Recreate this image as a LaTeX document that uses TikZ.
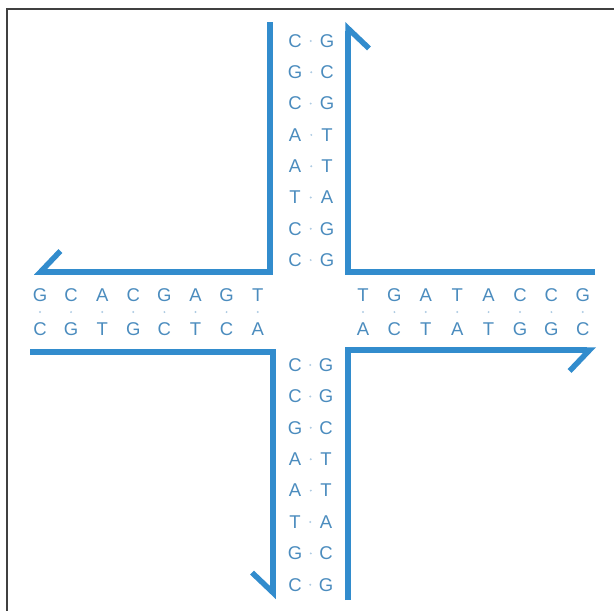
\documentclass[tikz,border=0pt]{standalone}
\usepackage{fontspec}
\setmainfont{Liberation Sans}
\usetikzlibrary{arrows.meta}
\definecolor{strandblue}{RGB}{50,140,205}
\definecolor{baseblue}{RGB}{75,140,190}
\tikzset{
  strand/.style={line width=5.5pt, draw=strandblue, line join=miter,
    -{Straight Barb[harpoon, swap, length=20pt, width=42pt]}},
  base/.style={font=\fontsize{18.5}{20}\selectfont, text=baseblue, inner sep=2pt},
  bond/.style={circle, fill=baseblue!45, inner sep=0pt, minimum size=2.2pt},
}
\begin{document}
\begin{tikzpicture}[x=1pt, y=-1pt]
  \useasboundingbox (0,0) rectangle (614,611);

  % frame
  \draw[line width=2pt, black!75] (7,611) -- (7,9) -- (614,9);

  % strand corners
  \coordinate (nwStart) at (270,22);
  \coordinate (nwCorner) at (270,272);
  \coordinate (nwEnd) at (34,272);
  \coordinate (neStart) at (595,272);
  \coordinate (neCorner) at (348,272);
  \coordinate (neEnd) at (348,22);
  \coordinate (swStart) at (30,352);
  \coordinate (swCorner) at (273,352);
  \coordinate (swEnd) at (273,599);
  \coordinate (seStart) at (348,600);
  \coordinate (seCorner) at (348,350);
  \coordinate (seEnd) at (596,350);

  % the four strands
  \draw[strand] (nwStart) -- (nwCorner) -- (nwEnd);
  \draw[strand] (neStart) -- (neCorner) -- (neEnd);
  \draw[strand] (swStart) -- (swCorner) -- (swEnd);
  \draw[strand] (seStart) -- (seCorner) -- (seEnd);

  % top arm
  \foreach \a/\b [count=\i] in {C/G, G/C, C/G, A/T, A/T, T/A, C/G, C/G} {
    \node[base] (topL\i) at (295, {41+31.3*(\i-1)}) {\a};
    \node[base] (topR\i) at (327, {41+31.3*(\i-1)}) {\b};
    \path (topL\i) -- node[bond] {} (topR\i);
  }

  % bottom arm
  \foreach \a/\b [count=\i] in {C/G, C/G, G/C, A/T, A/T, T/A, G/C, C/G} {
    \node[base] (botL\i) at (295, {365+31.4*(\i-1)}) {\a};
    \node[base] (botR\i) at (326, {365+31.4*(\i-1)}) {\b};
    \path (botL\i) -- node[bond] {} (botR\i);
  }

  % left arm
  \foreach \a/\b [count=\i] in {G/C, C/G, A/T, C/G, G/C, A/T, G/C, T/A} {
    \node[base] (leftU\i) at ({40+31.1*(\i-1)}, 295) {\a};
    \node[base] (leftD\i) at ({40+31.1*(\i-1)}, 329) {\b};
    \path (leftU\i) -- node[bond] {} (leftD\i);
  }

  % right arm
  \foreach \a/\b [count=\i] in {T/A, G/C, A/T, T/A, A/T, C/G, C/G, G/C} {
    \node[base] (rightU\i) at ({363+31.4*(\i-1)}, 295) {\a};
    \node[base] (rightD\i) at ({363+31.4*(\i-1)}, 329) {\b};
    \path (rightU\i) -- node[bond] {} (rightD\i);
  }

\end{tikzpicture}
\end{document}
